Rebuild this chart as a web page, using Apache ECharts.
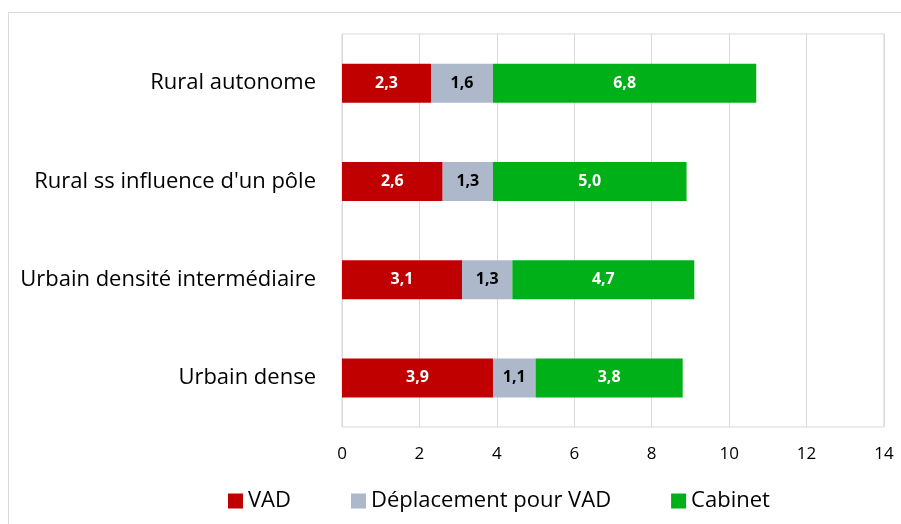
<!DOCTYPE html>
<html lang="fr">
<head>
    <meta charset="UTF-8">
    <title>VAD, déplacement et cabinet</title>
    <script src="https://cdn.jsdelivr.net/npm/echarts@6/dist/echarts.min.js"></script>
    <style>
        html, body { margin: 0; padding: 0; background: #fff; }
        #chart { width: 901px; height: 524px; }
    </style>
</head>
<body>
    <div id="chart"></div>
    <script>
        var categories = ['Rural autonome', "Rural ss influence d'un pôle", 'Urbain densité intermédiaire', 'Urbain dense'];
        var vad = [2.3, 2.6, 3.1, 3.9];
        var deplacement = [1.6, 1.3, 1.3, 1.1];
        var cabinet = [6.8, 5.0, 4.7, 3.8];
        var seriesNames = ['VAD', 'Déplacement pour VAD', 'Cabinet'];

        var font = '"Open Sans", "Noto Sans", sans-serif';

        // virgule décimale
        function fr(p) {
            return p.value.toFixed(1).replace('.', ',');
        }

        function barSeries(name, data, color, labelColor) {
            return {
                name: name,
                type: 'bar',
                stack: 'total',
                data: data,
                barWidth: 39,
                itemStyle: { color: color },
                label: {
                    show: true,
                    position: 'inside',
                    formatter: fr,
                    color: labelColor,
                    fontWeight: 'bold',
                    fontSize: 16,
                    fontFamily: font
                }
            };
        }

        var chart = echarts.init(document.getElementById('chart'));
        chart.setOption({
            animation: false,
            graphic: [{
                type: 'rect',
                shape: { x: 8.5, y: 12.5, width: 1000, height: 1000 },
                style: { fill: 'none', stroke: '#d9d9d9', lineWidth: 1 },
                silent: true
            }],
            grid: {
                left: 342, right: 17, top: 34, bottom: 97,
                show: true, borderColor: '#d9d9d9', borderWidth: 1
            },
            legend: {
                top: 484,
                left: 223,
                itemWidth: 15,
                itemHeight: 15,
                itemGap: 60,
                icon: 'rect',
                textStyle: { fontSize: 22, lineHeight: 24, color: '#000', fontFamily: font },
                data: seriesNames
            },
            xAxis: {
                type: 'value',
                min: 0, max: 14, interval: 2,
                axisLine: { show: false },
                axisTick: { show: false },
                splitLine: { lineStyle: { color: '#d9d9d9' } },
                axisLabel: { fontSize: 17, color: '#000', margin: 19, fontFamily: font }
            },
            yAxis: {
                type: 'category',
                inverse: true,
                data: categories,
                axisLine: { show: false },
                axisTick: { show: false },
                axisLabel: { fontSize: 22, color: '#000', margin: 26, fontFamily: font }
            },
            series: [
                barSeries(seriesNames[0], vad, '#c00000', '#fff'),
                barSeries(seriesNames[1], deplacement, '#adb9ca', '#000'),
                barSeries(seriesNames[2], cabinet, '#00b018', '#fff')
            ]
        });
    </script>
</body>
</html>
